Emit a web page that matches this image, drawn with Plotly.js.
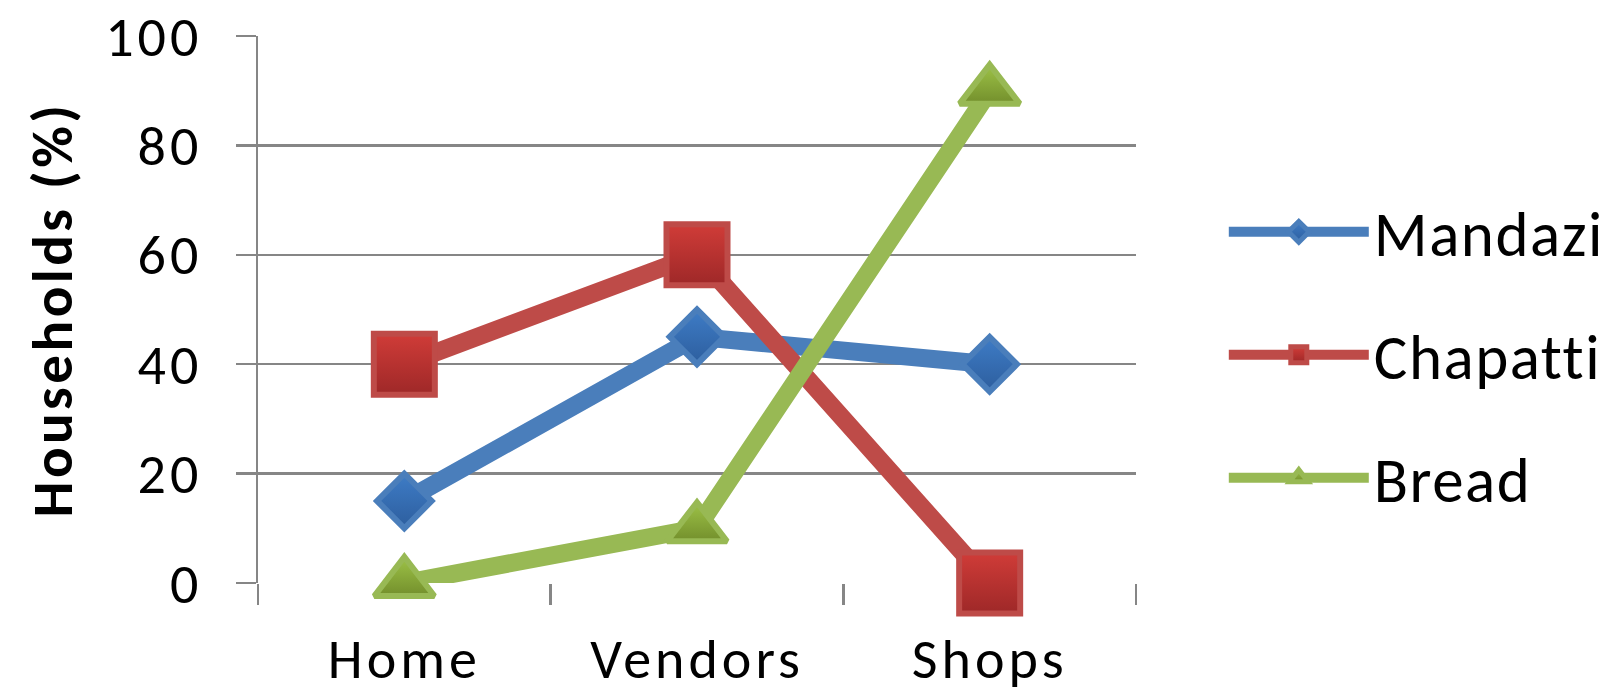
<!DOCTYPE html>
<html>
<head>
<meta charset="utf-8">
<script src="https://cdn.plot.ly/plotly-3.0.1.min.js"></script>
<style>
html,body{margin:0;padding:0;background:#fff;}
#chart{width:1619px;height:700px;}
#chart .xtick text{letter-spacing:4px;}
#chart .ytick text{letter-spacing:4px;}
#chart .legendtext{letter-spacing:1.5px;}
#chart .ytitle{letter-spacing:3.5px;}
</style>
</head>
<body>
<div id="chart"></div>
<script>
const categories = ["Home", "Vendors", "Shops"];
const mandazi = [15, 45, 40];
const chapatti = [40, 60, 0];
const bread = [0, 10, 90];
const seriesNames = ["Mandazi", "Chapatti", "Bread"];
const yTickValues = [0, 20, 40, 60, 80, 100];

const FONT = "Carlito, Calibri, Lato, sans-serif";

function series(name, values, lineColor, symbol, size, fillTop, fillBottom, borderColor, group) {
  return {
    type: "scatter",
    mode: "lines+markers",
    name: name,
    legendgroup: group,
    x: categories,
    y: values,
    cliponaxis: false,
    line: {color: lineColor, width: 18},
    marker: {
      symbol: symbol,
      size: size,
      color: fillTop,
      gradient: {type: "vertical", color: fillBottom},
      line: {color: borderColor, width: 6}
    }
  };
}

const data = [
  series(seriesNames[0], mandazi, "#4A7EBB", "diamond", 42, "#3E7CC6", "#2D5E9E", "#4A7EBB", "g1"),
  series(seriesNames[1], chapatti, "#BE4B48", "square", 61, "#D03C38", "#9E2828", "#BE4B48", "g2"),
  series(seriesNames[2], bread, "#98B954", "triangle-up", 52, "#9DC247", "#738F2C", "#98B954", "g3")
];

const layout = {
  width: 1619,
  height: 700,
  paper_bgcolor: "#ffffff",
  plot_bgcolor: "#ffffff",
  margin: {l: 258, r: 483, t: 36, b: 117},
  font: {family: FONT, color: "#000000"},
  showlegend: true,
  legend: {
    x: 1.1, xanchor: "left",
    y: 0.417, yanchor: "middle",
    font: {family: FONT, size: 63, color: "#000000"},
    tracegroupgap: 38,
    itemwidth: 140,
    bgcolor: "rgba(0,0,0,0)"
  },
  xaxis: {
    type: "category",
    range: [-0.5, 2.5],
    showgrid: false,
    showline: false,
    zeroline: false,
    ticks: "outside",
    tickson: "boundaries",
    ticklen: 21,
    tickwidth: 2.5,
    tickcolor: "#868686",
    ticklabelstandoff: 38,
    ticklabeloverflow: "allow",
    tickfont: {family: FONT, size: 56, color: "#000000"}
  },
  yaxis: {
    range: [0, 100],
    tickvals: yTickValues,
    ticktext: yTickValues.map(String),
    showgrid: true,
    gridcolor: "#868686",
    gridwidth: 2.5,
    zeroline: false,
    showline: true,
    linecolor: "#868686",
    linewidth: 2.5,
    ticks: "outside",
    ticklen: 20,
    tickwidth: 2.5,
    tickcolor: "#868686",
    ticklabelstandoff: 22,
    ticklabeloverflow: "allow",
    tickfont: {family: FONT, size: 56, color: "#000000"},
    title: {
      text: "<b>Households (%)</b>",
      font: {family: FONT, size: 57, color: "#000000"},
      standoff: 26
    }
  }
};

Plotly.newPlot("chart", data, layout, {displayModeBar: false, staticPlot: true});
</script>
</body>
</html>
